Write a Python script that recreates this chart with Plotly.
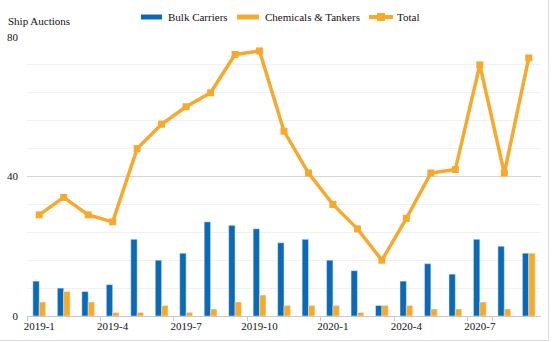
import plotly.graph_objects as go

months = ["2019-1", "2019-2", "2019-3", "2019-4", "2019-5", "2019-6", "2019-7",
          "2019-8", "2019-9", "2019-10", "2019-11", "2019-12", "2020-1", "2020-2",
          "2020-3", "2020-4", "2020-5", "2020-6", "2020-7", "2020-8", "2020-9"]
bulk = [10, 8, 7, 9, 22, 16, 18, 27, 26, 25, 21, 22, 16, 13, 3, 10, 15, 12, 22, 20, 18]
chem = [4, 7, 4, 1, 1, 3, 1, 2, 4, 6, 3, 3, 3, 1, 3, 3, 2, 2, 4, 2, 18]
total = [29, 34, 29, 27, 48, 55, 60, 64, 75, 76, 53, 41, 32, 25, 16, 28, 41, 42, 72, 41, 74]
tick_labels = months[::3]
y_ticks = [0, 40, 80]

BLUE = "#0A6AB6"
ORANGE = "#F6A92B"
FONT = "Liberation Serif"

W, H = 554, 342
L, R, T, B = 27, 13, 37, 26
pw, ph = W - L - R, H - T - B

def px(x):
    return (x - L) / pw

def py(y):
    return (H - B - y) / ph

fig = go.Figure()
fig.add_trace(go.Bar(x=months, y=bulk, name="Bulk Carriers", marker_color=BLUE,
                     showlegend=False))
fig.add_trace(go.Bar(x=months, y=chem, name="Chemicals & Tankers", marker_color=ORANGE,
                     showlegend=False))
fig.add_trace(go.Scatter(x=months, y=total, name="Total", mode="lines+markers",
                         line=dict(color=ORANGE, width=3.5),
                         marker=dict(symbol="square", size=7, color=ORANGE),
                         showlegend=False))

shapes = []
annotations = []
# legend
legend_items = [
    ("Bulk Carriers", BLUE, 141, 162, 166, "bar"),
    ("Chemicals & Tankers", ORANGE, 237, 259, 263, "bar"),
    ("Total", ORANGE, 369, 393, 395, "line"),
]
ly = 17
for name, col, x0, x1, tx, kind in legend_items:
    if kind == "bar":
        shapes.append(dict(type="rect", xref="paper", yref="paper",
                           x0=px(x0), x1=px(x1), y0=py(ly + 2.5), y1=py(ly - 2.5),
                           fillcolor=col, line=dict(width=0)))
    else:
        shapes.append(dict(type="line", xref="paper", yref="paper",
                           x0=px(x0), x1=px(x1), y0=py(ly), y1=py(ly),
                           line=dict(color=col, width=4)))
        cx = (x0 + x1) / 2
        shapes.append(dict(type="rect", xref="paper", yref="paper",
                           x0=px(cx - 4), x1=px(cx + 4), y0=py(ly + 4), y1=py(ly - 4),
                           fillcolor=col, line=dict(width=0)))
    annotations.append(dict(text=name, xref="paper", yref="paper", x=px(tx), y=py(ly),
                            xanchor="left", yanchor="middle", showarrow=False,
                            font=dict(family=FONT, size=11, color="#111")))

annotations.append(dict(text="Ship Auctions", xref="paper", yref="paper",
                        x=px(6), y=py(21), xanchor="left", yanchor="middle",
                        showarrow=False, font=dict(family=FONT, size=11, color="#111")))

# outer border (right and bottom)
shapes.append(dict(type="line", xref="paper", yref="paper", x0=px(548.5), x1=px(548.5),
                   y0=py(0), y1=py(340.5), line=dict(color="#dddddd", width=1)))
shapes.append(dict(type="line", xref="paper", yref="paper", x0=px(0), x1=px(548.5),
                   y0=py(340.5), y1=py(340.5), line=dict(color="#dddddd", width=1)))

fig.update_layout(
    width=W, height=H,
    margin=dict(l=L, r=R, t=T, b=B, pad=0, autoexpand=False),
    paper_bgcolor="white", plot_bgcolor="white",
    barmode="group", bargap=0.48, bargroupgap=0,
    showlegend=False,
    font=dict(family=FONT, size=11, color="#111"),
    shapes=shapes, annotations=annotations,
    xaxis=dict(type="category", range=[-0.5, len(months) - 0.5],
               tickmode="array", tickvals=tick_labels,
               ticktext=tick_labels, tickson="boundaries", ticks="outside",
               ticklen=4, tickcolor="#c8c8c8", showline=True, linecolor="#c8c8c8",
               showgrid=False, zeroline=False, tickangle=0, automargin=False,
               minor=dict(showgrid=False, ticks=""),
               tickfont=dict(family=FONT, size=11, color="#111")),
    yaxis=dict(range=[0, 80], tickmode="array", tickvals=y_ticks,
               ticktext=[str(v) for v in y_ticks], showgrid=True,
               gridcolor="#d4d4d4", gridwidth=1, zeroline=False, showline=False,
               ticks="", ticklabelstandoff=8, automargin=False,
               minor=dict(dtick=8, tick0=0, showgrid=True, gridcolor="#f1f1f1",
                          gridwidth=1),
               tickfont=dict(family=FONT, size=11, color="#111")),
)

fig.write_html("out.html")
